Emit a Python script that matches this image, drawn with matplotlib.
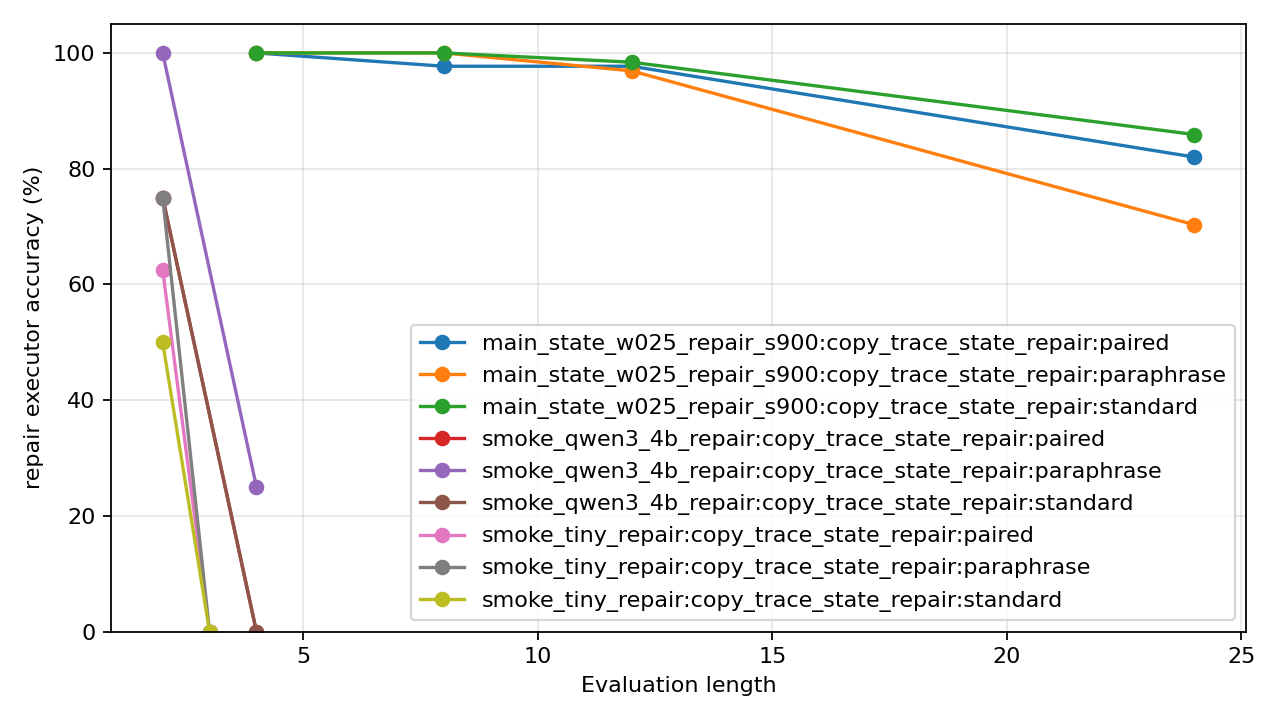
import matplotlib
matplotlib.use("Agg")
import matplotlib.pyplot as plt

main_x = [4, 8, 12, 24]
main_paired = [100.0, 97.7, 97.7, 82.0]
main_paraphrase = [100.0, 100.0, 96.9, 70.3]
main_standard = [100.0, 100.0, 98.4, 85.9]

qwen_x = [2, 4]
qwen_paired = [75.0, 0.0]
qwen_paraphrase = [100.0, 25.0]
qwen_standard = [75.0, 0.0]

tiny_x = [2, 3]
tiny_paired = [62.5, 0.0]
tiny_paraphrase = [75.0, 0.0]
tiny_standard = [50.0, 0.0]

series = [
    ("main_state_w025_repair_s900:copy_trace_state_repair:paired", main_x, main_paired),
    ("main_state_w025_repair_s900:copy_trace_state_repair:paraphrase", main_x, main_paraphrase),
    ("main_state_w025_repair_s900:copy_trace_state_repair:standard", main_x, main_standard),
    ("smoke_qwen3_4b_repair:copy_trace_state_repair:paired", qwen_x, qwen_paired),
    ("smoke_qwen3_4b_repair:copy_trace_state_repair:paraphrase", qwen_x, qwen_paraphrase),
    ("smoke_qwen3_4b_repair:copy_trace_state_repair:standard", qwen_x, qwen_standard),
    ("smoke_tiny_repair:copy_trace_state_repair:paired", tiny_x, tiny_paired),
    ("smoke_tiny_repair:copy_trace_state_repair:paraphrase", tiny_x, tiny_paraphrase),
    ("smoke_tiny_repair:copy_trace_state_repair:standard", tiny_x, tiny_standard),
]

fig, ax = plt.subplots(figsize=(8, 4.5), dpi=160)
for label, x, y in series:
    ax.plot(x, y, marker='o', label=label)
ax.set_xlabel('Evaluation length')
ax.set_ylabel('repair executor accuracy (%)')
ax.set_ylim(0, 105)
ax.grid(True, alpha=0.3)
ax.legend(loc='lower right')
fig.tight_layout()
fig.savefig('out.png')
